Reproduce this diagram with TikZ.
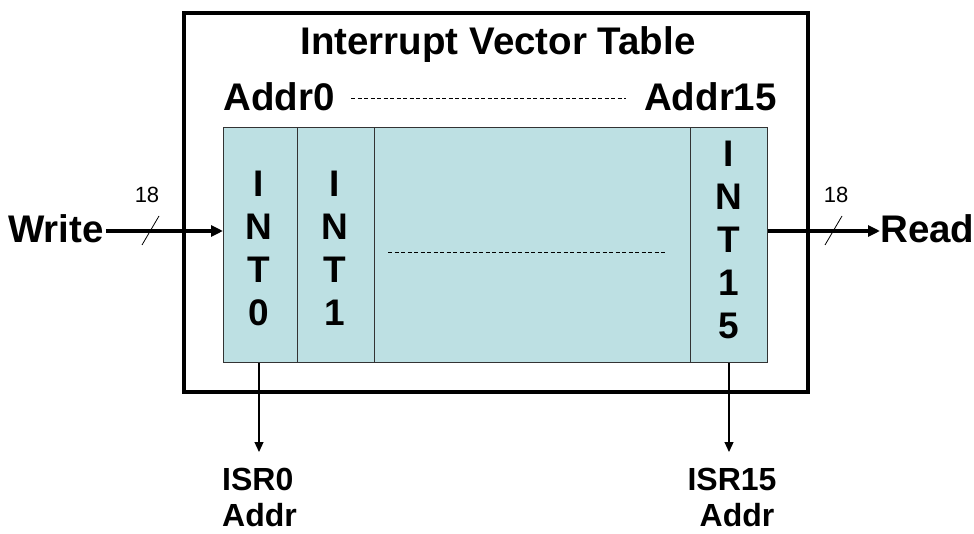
\documentclass[tikz,border=0pt]{standalone}
\usepackage{fontspec}
\setmainfont{Liberation Sans}
\usetikzlibrary{arrows.meta}
\definecolor{cellfill}{RGB}{189,224,227}
\begin{document}
\begin{tikzpicture}[x=1pt,y=-1pt,
  big/.style={font=\fontsize{38.5}{43}\selectfont\bfseries, inner sep=0pt},
  small/.style={font=\fontsize{32}{40}\selectfont\bfseries, inner sep=0pt},
  tiny/.style={font=\fontsize{22}{24}\selectfont, inner sep=0pt},
  vert/.style={font=\fontsize{37}{43}\selectfont\bfseries, inner sep=0pt, align=center},
  cell/.style={draw=black!80, line width=1.2pt, fill=cellfill},
  dashline/.style={line width=0.8pt, dash pattern=on 4pt off 2.5pt},
  thick arrow/.style={line width=3.2pt, -{Triangle[length=12pt,width=11pt]}},
  thin arrow/.style={line width=1.2pt, -{Triangle[length=10pt,width=9pt]}}]
\useasboundingbox (0,0) rectangle (974,534);
% outer box
\draw[line width=4pt] (184,13) rectangle (808,392);
% table cells
\node[cell, minimum width=74pt, minimum height=235pt, anchor=north west] (c0) at (223,127) {};
\node[cell, minimum width=77pt, minimum height=235pt, anchor=north west] (c1) at (297,127) {};
\node[cell, minimum width=316pt, minimum height=235pt, anchor=north west] (cm) at (374,127) {};
\node[cell, minimum width=77pt, minimum height=235pt, anchor=north west] (c15) at (690,127) {};
\node[vert] (t0) at (259,248) {I\\N\\T\\0};
\node[vert] (t1) at (335,248) {I\\N\\T\\1};
\node[vert] (t15) at (729,240) {I\\N\\T\\1\\5};
\coordinate (md1) at (388,252);
\coordinate (md2) at (667,252);
\draw[dashline] (md1) -- (md2);
% title
\node[big, anchor=base] (title) at (498,55) {Interrupt Vector Table};
\node[big, anchor=base west] (a0) at (223,111) {Addr0};
\node[big, anchor=base east] (a15) at (777,111) {Addr15};
\coordinate (ad1) at (351,98);
\coordinate (ad2) at (626,98);
\draw[dashline] (ad1) -- (ad2);
% write
\node[big, anchor=base west] (w) at (8,243) {Write};
\draw[thick arrow] ([xshift=2pt]w.east |- 0,231) -- (c0.west |- 0,231);
\coordinate (s1a) at (142,245);
\coordinate (s1b) at (159,216);
\draw[line width=0.8pt] (s1a) -- (s1b);
\node[tiny] (n1) at (147,195) {18};
% read
\node[big, anchor=base west] (r) at (880,243) {Read};
\draw[thick arrow] (c15.east |- 0,231) -- (r.west |- 0,231);
\coordinate (s2a) at (825,245);
\coordinate (s2b) at (842,216);
\draw[line width=0.8pt] (s2a) -- (s2b);
\node[tiny] (n2) at (836,195) {18};
% down arrows
\node[small, anchor=base west] (isr0) at (222,490) {ISR0};
\node[small, anchor=base west] (ad0) at (222,526) {Addr};
\node[small, anchor=base] (isr15) at (732,490) {ISR15};
\node[small, anchor=base] (ad15) at (737,526) {Addr};
\draw[thin arrow] (c0.south -| t0) -- (t0 |- 0,452);
\draw[thin arrow] (c15.south -| t15) -- (t15 |- 0,452);
\end{tikzpicture}
\end{document}
